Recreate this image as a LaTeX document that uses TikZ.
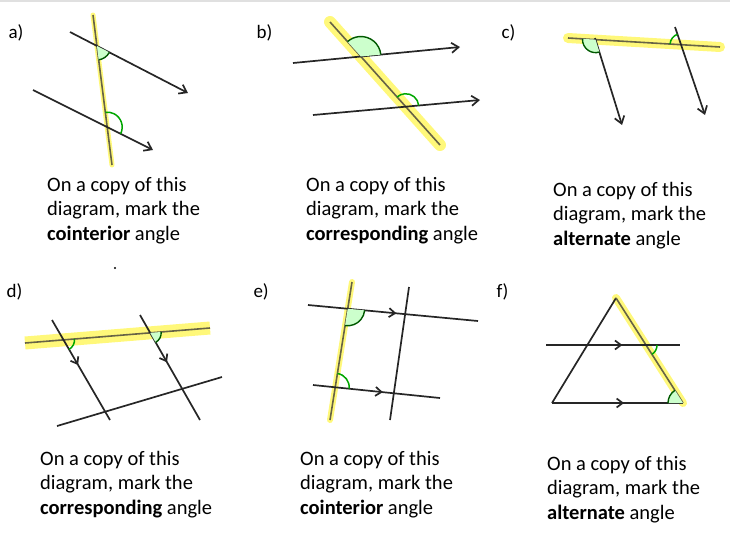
\documentclass[tikz,border=0pt]{standalone}
\usepackage{fontspec}
\setmainfont{Carlito}
\usetikzlibrary{angles,decorations.markings,arrows.meta}
\begin{document}
\begin{tikzpicture}[x=1pt,y=-1pt,
  ln/.style={line width=1.7pt,black!85},
  arr/.style={ln,-{Straight Barb[length=7pt,width=10pt]}},
  hl/.style={line width=7pt,yellow!70!white,opacity=0.75,line cap=round},
  tl/.style={line width=1.6pt,black!55!yellow!70!black},
  mid/.style={ln,postaction={decorate},decoration={markings,mark=at position #1 with {\arrow{Straight Barb[length=6pt,width=9pt]}}}},
  fa/.style={draw=green!35!black,fill=green!20,line width=1.4pt,angle radius=#1},
  ua/.style={draw=green!65!black,line width=1.5pt,angle radius=#1},
  lab/.style={font=\fontsize{19}{22}\selectfont,anchor=west},
  captext/.style={font=\fontsize{20.5}{24.5}\selectfont,align=left,anchor=north west,inner sep=0pt}]
\useasboundingbox (0,0) rectangle (730,550);
\draw[black!12,line width=2pt] (0,1) -- (730,1);
% a)
\node[lab] (la) at (5,33) {a)};
\coordinate (aT1) at (93,15); \coordinate (aT2) at (112,165);
\coordinate (aA1) at (70,32); \coordinate (aA2) at (188,93);
\coordinate (aB1) at (33,90); \coordinate (aB2) at (153,150);
\draw[hl,line width=5pt] (aT1) -- (aT2);
\draw[tl] (aT1) -- (aT2);
\draw[arr] (aA1) -- (aA2);
\draw[arr] (aB1) -- (aB2);
\coordinate (aP1) at (intersection of aT1--aT2 and aA1--aA2);
\coordinate (aP2) at (intersection of aT1--aT2 and aB1--aB2);
\pic[fa=14] {angle=aT2--aP1--aA2};
\pic[ua=15] {angle=aB2--aP2--aT1};
\node[captext] (ca) at (47,177) {On a copy of this\\diagram, mark the\\\textbf{cointerior} angle};
% b)
\node[lab] (lb) at (253,33) {b)};
\coordinate (bT1) at (330,22); \coordinate (bT2) at (440,145);
\coordinate (bA1) at (293,63); \coordinate (bA2) at (460,47);
\coordinate (bB1) at (313,115); \coordinate (bB2) at (480,100);
\draw[hl,line width=12pt] (bT1) -- (bT2);
\draw[tl] (bT1) -- (bT2);
\draw[arr] (bA1) -- (bA2);
\draw[arr] (bB1) -- (bB2);
\coordinate (bP1) at (intersection of bT1--bT2 and bA1--bA2);
\coordinate (bP2) at (intersection of bT1--bT2 and bB1--bB2);
\pic[fa=20] {angle=bA2--bP1--bT1};
\pic[ua=13] {angle=bB2--bP2--bT1};
\node[captext] (cb) at (306,177) {On a copy of this\\diagram, mark the\\\textbf{corresponding} angle};
% c)
\node[lab] (lc) at (498,33) {c)};
\coordinate (cT1) at (568,38); \coordinate (cT2) at (720,47);
\coordinate (cA1) at (595,38); \coordinate (cA2) at (622,125);
\coordinate (cB1) at (675,27); \coordinate (cB2) at (705,115);
\draw[hl,line width=10pt] (cT1) -- (cT2);
\draw[tl] (cT1) -- (cT2);
\draw[arr] (cA1) -- (cA2);
\draw[arr] (cB1) -- (cB2);
\coordinate (cP1) at (intersection of cT1--cT2 and cA1--cA2);
\coordinate (cP2) at (intersection of cT1--cT2 and cB1--cB2);
\pic[fa=13] {angle=cT1--cP1--cA2};
\pic[ua=11] {angle=cB1--cP2--cT1};
\node[captext] (cc) at (553,182) {On a copy of this\\diagram, mark the\\\textbf{alternate} angle};
\fill[black] (115,268) circle (1.2pt);
% d)
\node[lab] (ld) at (3,292) {d)};
\coordinate (dT1) at (25,343); \coordinate (dT2) at (210,328);
\coordinate (dA1) at (52,320); \coordinate (dA2) at (110,420);
\coordinate (dB1) at (140,315); \coordinate (dB2) at (200,420);
\coordinate (dC1) at (57,426); \coordinate (dC2) at (222,377);
\draw[hl,line width=13pt,line cap=butt] (dT1) -- (dT2);
\draw[tl] (dT1) -- (dT2);
\draw[mid=0.45] (dA1) -- (dA2);
\draw[mid=0.45] (dB1) -- (dB2);
\draw[ln] (dC1) -- (dC2);
\coordinate (dP1) at (intersection of dT1--dT2 and dA1--dA2);
\coordinate (dP2) at (intersection of dT1--dT2 and dB1--dB2);
\pic[ua=11] {angle=dA2--dP1--dT2};
\pic[fa=11] {angle=dB2--dP2--dT2};
\node[captext] (cd) at (40,451) {On a copy of this\\diagram, mark the\\\textbf{corresponding} angle};
% e)
\node[lab] (le) at (250,292) {e)};
\coordinate (eT1) at (352,282); \coordinate (eT2) at (330,420);
\coordinate (eV1) at (409,287); \coordinate (eV2) at (390,420);
\coordinate (eA1) at (308,305); \coordinate (eA2) at (478,321);
\coordinate (eB1) at (313,385); \coordinate (eB2) at (440,398);
\draw[hl,line width=6pt] (eT1) -- (eT2);
\draw[tl] (eT1) -- (eT2);
\draw[ln] (eV1) -- (eV2);
\draw[mid=0.52] (eA1) -- (eA2);
\draw[mid=0.55] (eB1) -- (eB2);
\coordinate (eP1) at (intersection of eT1--eT2 and eA1--eA2);
\coordinate (eP2) at (intersection of eT1--eT2 and eB1--eB2);
\pic[fa=17] {angle=eT2--eP1--eA2};
\pic[ua=14] {angle=eB2--eP2--eT1};
\node[captext] (ce) at (300,451) {On a copy of this\\diagram, mark the\\\textbf{cointerior} angle};
% f)
\node[lab] (lf) at (493,292) {f)};
\coordinate (fA) at (616,298); \coordinate (fL) at (552,403); \coordinate (fR) at (683,403);
\coordinate (fM1) at (546,345); \coordinate (fM2) at (680,345);
\draw[hl,line width=8pt] (fA) -- (fR);
\draw[ln] (fL) -- (fA);
\draw[tl] (fA) -- (fR);
\draw[mid=0.55] (fL) -- (fR);
\draw[mid=0.57] (fM1) -- (fM2);
\coordinate (fP) at (intersection of fA--fR and fM1--fM2);
\pic[ua=11] {angle=fR--fP--fM2};
\pic[fa=15] {angle=fA--fR--fL};
\node[captext] (cf) at (547,456) {On a copy of this\\diagram, mark the\\\textbf{alternate} angle};
\end{tikzpicture}
\end{document}
